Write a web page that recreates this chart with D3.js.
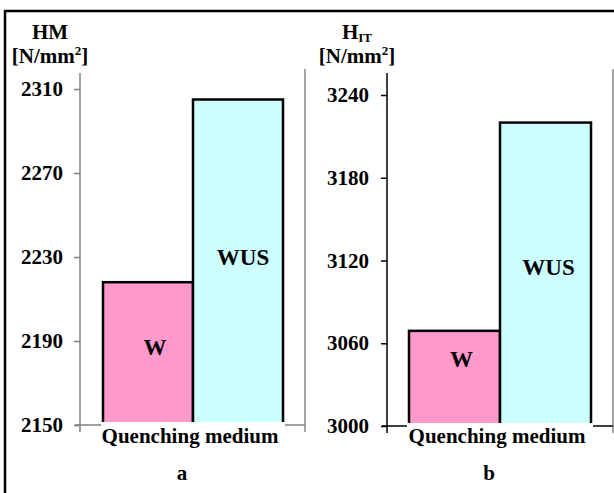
<!DOCTYPE html>
<html><head><meta charset="utf-8">
<script src="https://cdn.jsdelivr.net/npm/d3@7/dist/d3.min.js"></script>
<style>
body{margin:0;background:#fff;}
svg text{font-family:'Liberation Serif','Times New Roman',Times,serif !important;font-weight:bold;fill:#000;}
</style></head>
<body><svg id="c" width="614" height="493" font-family="Liberation Serif, Times New Roman, serif"></svg>
<script>
const categories = ["W", "WUS"];
const valuesA = [2218, 2305];
const valuesB = [3069, 3220];
const ticksA = [2150, 2190, 2230, 2270, 2310];
const ticksB = [3000, 3060, 3120, 3180, 3240];
const colors = ["#FF99CC", "#CCFFFF"];

const svg = d3.select("#c");
// outer frame (extends beyond picture at right and bottom)
svg.append("rect").attr("x",5).attr("y",11).attr("width",700).attr("height",600)
  .attr("fill","none").attr("stroke","#000").attr("stroke-width",2.5);

function panel(o){
  const g = svg.append("g");
  const y = d3.scaleLinear().domain([o.ticks[0], o.ticks[o.ticks.length-1]]).range([o.y0, o.y1]);
  const x = d3.scaleBand().domain(categories).range([o.bx0, o.bx1]).padding(0);
  g.append("line").attr("x1",o.rx).attr("x2",o.rx).attr("y1",69).attr("y2",o.y0+7)
    .attr("stroke","#888").attr("stroke-width",1.5);
  g.append("line").attr("x1",o.ax-5).attr("x2",o.rx).attr("y1",o.y0).attr("y2",o.y0)
    .attr("stroke",o.axColor).attr("stroke-width",1.5);
  g.selectAll("rect.bar").data(o.values).enter().append("rect")
    .attr("x",(d,i)=>x(categories[i])).attr("width",x.bandwidth())
    .attr("y",d=>y(d)).attr("height",d=>o.y0-y(d))
    .attr("fill",(d,i)=>colors[i]).attr("stroke","#000").attr("stroke-width",2.5);
  const ax = g.append("g").attr("transform",`translate(${o.ax},0)`)
    .call(d3.axisLeft(y).tickValues(o.ticks).tickSize(6).tickPadding(0).tickFormat(d3.format("d")));
  ax.select(".domain").remove();
  ax.selectAll(".tick line").attr("stroke",o.axColor).attr("stroke-width",1.5);
  ax.selectAll(".tick text").remove();
  g.selectAll("text.tl").data(o.ticks).enter().append("text")
    .attr("x",o.tlx).attr("y",d=>y(d)+7).attr("text-anchor","end").attr("font-size",21).text(d=>d);
  g.append("line").attr("x1",o.ax).attr("x2",o.ax).attr("y1",73).attr("y2",o.y0+7)
    .attr("stroke",o.axColor).attr("stroke-width",1.5);
  g.append("rect").attr("x",o.bx0-2).attr("y",o.y0-3).attr("width",o.bx1-o.bx0+4).attr("height",26).attr("fill","#fff");
  g.append("text").attr("x",(o.bx0+o.bx1)/2-3).attr("y",443).attr("text-anchor","middle").attr("font-size",21).text("Quenching medium");
  g.append("text").attr("x",(o.bx0+o.bx1)/2-11).attr("y",480).attr("text-anchor","middle").attr("font-size",21).text(o.letter);
  g.selectAll("text.bl").data(o.values).enter().append("text")
    .attr("x",(d,i)=>x(categories[i])+x.bandwidth()/2+o.lblDx[i])
    .attr("y",(d,i)=>o.lblY[i]).attr("text-anchor","middle").attr("font-size",23).text((d,i)=>categories[i]);
  const t = g.append("text").attr("x",o.tx).attr("y",39).attr("text-anchor","middle").attr("font-size",21);
  t.append("tspan").text(o.title);
  if(o.sub) t.append("tspan").attr("font-size",13).attr("dy",3).text(o.sub);
  const u = g.append("text").attr("x",o.tx).attr("y",63).attr("text-anchor","middle").attr("font-size",21);
  u.append("tspan").text("[N/mm");
  u.append("tspan").attr("font-size",13).attr("dy",-8).text("2");
  u.append("tspan").attr("dy",8).text("]");
}

panel({values:valuesA, ticks:ticksA, y0:425, y1:89, bx0:103, bx1:283, ax:80, rx:305, tlx:63,
  axColor:"#808080", letter:"a", title:"HM", sub:null, tx:50, lblDx:[7,5], lblY:[355,265]});
panel({values:valuesB, ticks:ticksB, y0:426, y1:95, bx0:409, bx1:591, ax:387, rx:613, tlx:369,
  axColor:"#000", letter:"b", title:"H", sub:"IT", tx:357, lblDx:[7,3], lblY:[367,275]});
</script></body></html>
